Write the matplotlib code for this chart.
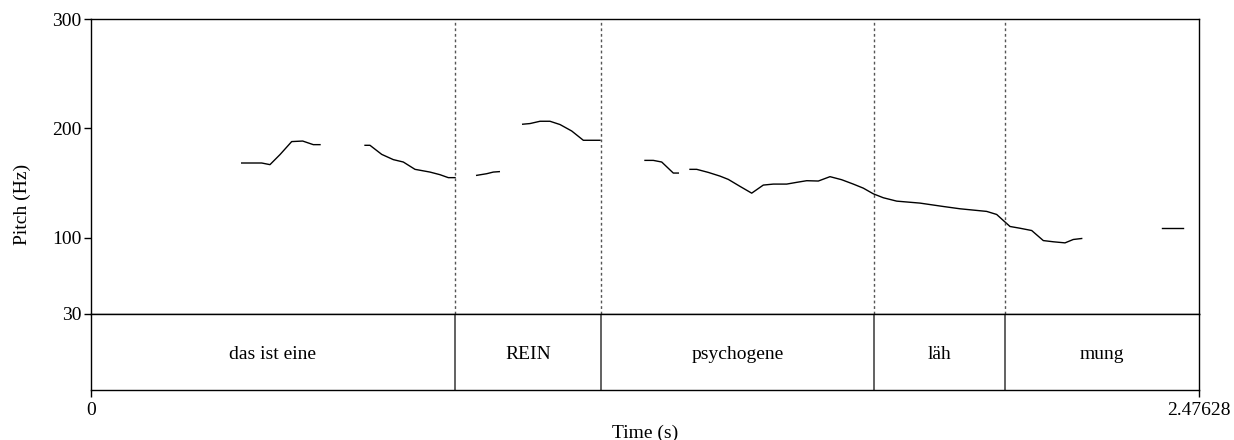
import numpy as np
import matplotlib
matplotlib.use("Agg")
import matplotlib.pyplot as plt

plt.rcParams['font.family'] = ['Liberation Serif', 'DejaVu Serif']

T_END = 2.47628

# Pitch contour segments (time s, pitch Hz)
seg1_t = [0.3368, 0.3815, 0.4000, 0.4224, 0.4485, 0.4731, 0.4968, 0.5118]
seg1_f = [168.2, 168.2, 166.7, 175.9, 187.8, 188.3, 185.0, 185.0]
seg2_t = [0.6124, 0.6235, 0.6497, 0.6756, 0.6980, 0.7241, 0.7576, 0.7800, 0.7985, 0.8135]
seg2_f = [184.4, 184.4, 176.1, 171.3, 169.1, 162.4, 159.9, 157.5, 154.8, 154.8]
seg3_t = [0.8620, 0.8843, 0.8991, 0.9125]
seg3_f = [156.9, 158.4, 159.9, 160.3]
seg4_t = [0.9648, 0.9811, 1.0035, 1.0258, 1.0482, 1.0743, 1.1003, 1.1376]
seg4_f = [203.7, 204.3, 206.4, 206.4, 203.4, 197.5, 189.0, 189.0]
seg5_t = [1.2381, 1.2567, 1.2755, 1.3014, 1.3126]
seg5_f = [170.6, 170.6, 169.1, 159.0, 159.0]
seg6_t = [1.3387, 1.3537, 1.3796, 1.4058, 1.4243, 1.4505, 1.4766, 1.5025, 1.5249,
          1.5548, 1.5772, 1.5995, 1.6255, 1.6516, 1.6777, 1.7037, 1.7260, 1.7484,
          1.7633, 1.7707, 1.8007, 1.8527, 1.9048, 1.9421, 2.0018, 2.0241, 2.0389,
          2.0539, 2.0762, 2.1024, 2.1283, 2.1507, 2.1768, 2.1953, 2.2141]
seg6_f = [162.4, 162.4, 159.6, 156.2, 153.2, 146.8, 140.6, 148.0, 148.9,
          148.9, 150.5, 152.0, 151.7, 155.7, 152.9, 148.9, 145.2, 140.0,
          137.6, 136.4, 133.3, 131.5, 128.4, 126.3, 123.9, 121.1, 115.6,
          110.1, 108.5, 106.4, 97.2, 96.1, 95.1, 98.2, 99.1]
seg7_t = [2.3929, 2.4412]
seg7_f = [108.9, 108.9]

segments = [(seg1_t, seg1_f), (seg2_t, seg2_f), (seg3_t, seg3_f), (seg4_t, seg4_f),
            (seg5_t, seg5_f), (seg6_t, seg6_f), (seg7_t, seg7_f)]

# TextGrid tier
boundaries = [0.8135, 1.1398, 1.7499, 2.0427]
labels = ["das ist eine", "REIN", "psychogene", "läh", "mung"]

y_ticks = [30, 100, 200, 300]

W, H = 1234, 440
fig = plt.figure(figsize=(W / 100, H / 100), dpi=100)

left = 91 / W
right = 1199 / W
top_pitch = 19
bot_pitch = 314
bot_tier = 389.5

ax = fig.add_axes([left, 1 - bot_pitch / H, right - left, (bot_pitch - top_pitch) / H])
axt = fig.add_axes([left, 1 - bot_tier / H, right - left, (bot_tier - bot_pitch) / H])

for t, f in segments:
    ax.plot(t, f, color='black', lw=1.0)

for b in boundaries:
    ax.axvline(b, color='#555555', lw=1.0, ls=(0, (2, 2)))
    axt.axvline(b, color='#555555', lw=1.3)

ax.set_xlim(0, T_END)
ax.set_ylim(30, 300)
ax.set_yticks(y_ticks)
ax.set_yticklabels([str(v) for v in y_ticks], fontsize=14)
ax.set_xticks([])
ax.tick_params(axis='y', direction='out', length=5, width=1, pad=2)
for s in ax.spines.values():
    s.set_linewidth(1.0)

axt.set_xlim(0, T_END)
axt.set_ylim(0, 1)
axt.set_yticks([])
axt.set_xticks([0, T_END])
axt.set_xticklabels(["0", "2.47628"], fontsize=14)
axt.tick_params(axis='x', direction='out', length=5, width=1, pad=4)
for s in axt.spines.values():
    s.set_linewidth(1.0)

edges = [0] + boundaries + [T_END]
for i, lab in enumerate(labels):
    axt.text((edges[i] + edges[i + 1]) / 2, 0.46, lab, ha='center', va='center', fontsize=14)

axt.set_xlabel("Time (s)", fontsize=14, labelpad=4)
fig.text(22 / W, 1 - 204 / H, "Pitch (Hz)", rotation=90, ha='center', va='center', fontsize=14)

fig.savefig("out.png", dpi=100)
